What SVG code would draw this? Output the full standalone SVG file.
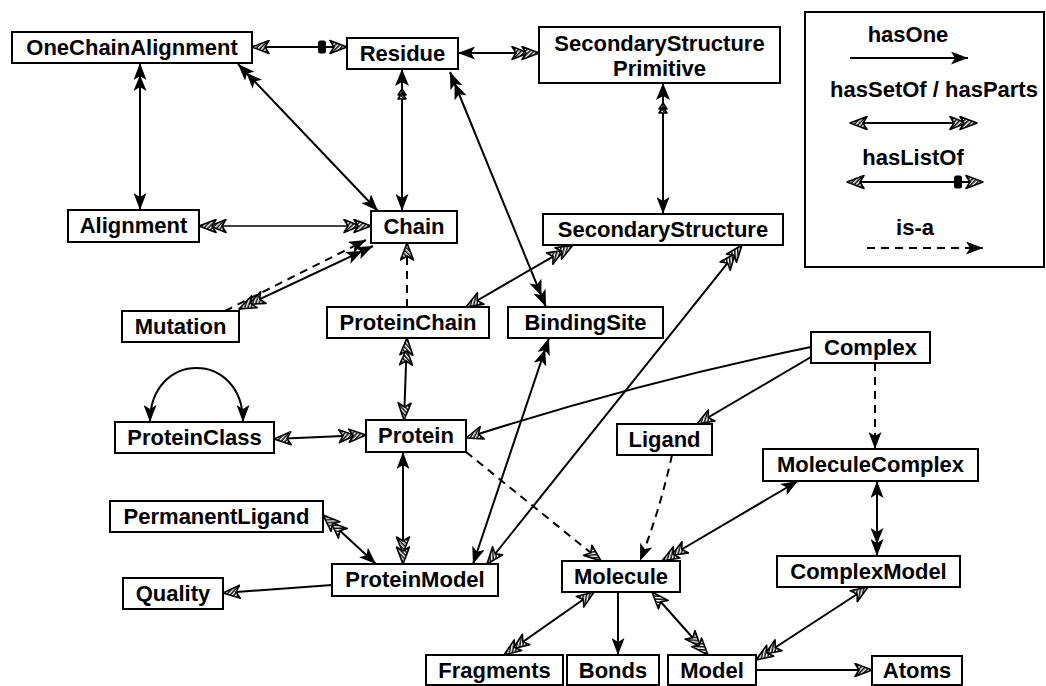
<svg xmlns="http://www.w3.org/2000/svg" width="1046" height="686" viewBox="0 0 1046 686">
<style>
.box{fill:#fff;stroke:#000;stroke-width:2}
.t{font-family:"Liberation Sans",Arial,sans-serif;font-weight:bold;font-size:22px;fill:#000;text-anchor:middle}
.c{fill:none;stroke:#000;stroke-width:2}
.d{fill:none;stroke:#000;stroke-width:2;stroke-dasharray:8,6}
.hf{fill:url(#hp);stroke:#000;stroke-width:1.6;stroke-linejoin:round}
</style>
<defs>
<pattern id="hp" width="3" height="3" patternUnits="userSpaceOnUse" patternTransform="rotate(45)">
<rect width="3" height="3" fill="#fff"/>
<line x1="0.8" y1="0" x2="0.8" y2="3" stroke="#000" stroke-width="1.5"/>
</pattern>
<marker id="one" viewBox="0 0 17 13" markerWidth="17" markerHeight="13" refX="17" refY="6.5" orient="auto-start-reverse" markerUnits="userSpaceOnUse">
<path d="M0,0 L17,6.5 L0,13 L4,6.5z" fill="#000"/>
</marker>
<marker id="dbl" viewBox="0 0 28 13" markerWidth="28" markerHeight="13" refX="28" refY="6.5" orient="auto-start-reverse" markerUnits="userSpaceOnUse">
<path d="M0,0 L16,6.5 L0,13 L4,6.5z M11,0 L28,6.5 L11,13 L15,6.5z" fill="#000"/>
</marker>
<marker id="h1" viewBox="-1 -1 19 15" markerWidth="19" markerHeight="15" refX="17" refY="6.5" orient="auto-start-reverse" markerUnits="userSpaceOnUse">
<path d="M0,0 L17,6.5 L0,13 L4,6.5z" class="hf"/>
</marker>
<marker id="h2" viewBox="-1 -1 29 15" markerWidth="29" markerHeight="15" refX="27" refY="6.5" orient="auto-start-reverse" markerUnits="userSpaceOnUse">
<path d="M0,0 L16,6.5 L0,13 L4,6.5z" class="hf"/>
<path d="M10,0 L27,6.5 L10,13 L14,6.5z" class="hf"/>
</marker>
<marker id="list" viewBox="-1 -1 33 16" markerWidth="33" markerHeight="16" refX="29" refY="7" orient="auto-start-reverse" markerUnits="userSpaceOnUse">
<rect x="0" y="0.5" width="8" height="13" rx="2.5" fill="#000"/>
<path d="M12,0.5 L29,7 L12,13.5 L16,7z" class="hf"/>
</marker>
<marker id="mark" viewBox="-1 -1 32 16" markerWidth="32" markerHeight="16" refX="30" refY="7" orient="auto-start-reverse" markerUnits="userSpaceOnUse">
<path d="M0,3 L6,7 L0,11z M4,3 L10,7 L4,11z" class="hf"/>
<path d="M13,0 L30,7 L13,14 L17,7z" fill="#000"/>
</marker>
</defs>

<g id="connectors">
<path class="c" d="M252,47 L347,47" marker-start="url(#h1)" marker-end="url(#list)"/>
<path class="c" d="M458,53 L539,53" marker-start="url(#one)" marker-end="url(#h2)"/>
<path class="c" d="M140,63 L140,210" marker-start="url(#dbl)" marker-end="url(#one)"/>
<path class="c" d="M238,64 L378,211" marker-start="url(#dbl)" marker-end="url(#one)"/>
<path class="c" d="M402,69 L402,211" marker-start="url(#mark)" marker-end="url(#one)"/>
<path class="c" d="M450,72 L546,307" marker-start="url(#dbl)" marker-end="url(#dbl)"/>
<path class="c" d="M663,83 L663,214" marker-start="url(#mark)" marker-end="url(#one)"/>
<path class="c" d="M199,226 L371,226" marker-start="url(#h2)" marker-end="url(#h2)" style="stroke-width:1.6"/>
<path class="d" d="M225,311 L366,240" marker-end="url(#one)"/>
<path class="c" d="M239,309 L373,246" marker-start="url(#h2)" marker-end="url(#dbl)"/>
<path class="d" d="M407,307 L407,243" marker-end="url(#h1)"/>
<path class="c" d="M466,307 L573,245" marker-start="url(#h1)" marker-end="url(#h2)"/>
<path class="c" d="M407,338 L404,420" marker-start="url(#h2)" marker-end="url(#h1)"/>
<path class="c" d="M549,338 L473,564" marker-start="url(#dbl)" marker-end="url(#one)"/>
<path class="c" d="M742,245 L487,564" marker-start="url(#h2)" marker-end="url(#h1)"/>
<path class="c" d="M811,347 Q640,382 466,438" marker-end="url(#h1)"/>
<path class="c" d="M811,357 L697,424" marker-end="url(#h1)"/>
<path class="d" d="M875,363 L875,449" marker-end="url(#one)"/>
<path class="c" d="M877,481 L877,556" marker-start="url(#one)" marker-end="url(#dbl)"/>
<path class="c" d="M798,481 L662,561" marker-start="url(#one)" marker-end="url(#h2)"/>
<path class="d" d="M672,455 Q660,510 640,561" marker-end="url(#one)"/>
<path class="d" d="M466,452 L601,561" marker-end="url(#h1)"/>
<path class="c" d="M594,592 L504,655" marker-start="url(#h1)" marker-end="url(#h2)"/>
<path class="c" d="M618,592 L618,655" marker-end="url(#one)"/>
<path class="c" d="M652,592 L708,655" marker-start="url(#h1)" marker-end="url(#h2)"/>
<path class="c" d="M868,587 L756,660" marker-start="url(#h1)" marker-end="url(#h2)"/>
<path class="c" d="M756,670 L872,670" marker-end="url(#h1)"/>
<path class="c" d="M150,422 C150,350 243,350 243,422" marker-start="url(#one)" marker-end="url(#one)"/>
<path class="c" d="M274,439 L366,435" marker-start="url(#h1)" marker-end="url(#h2)"/>
<path class="c" d="M403,452 L403,564" marker-start="url(#one)" marker-end="url(#h2)"/>
<path class="c" d="M323,515 L376,564" marker-start="url(#h2)" marker-end="url(#one)"/>
<path class="c" d="M332,585 L223,593" marker-end="url(#h1)"/>
</g>

<g id="OneChainAlignment"><rect class="box" x="12" y="32" width="240" height="31"/><text class="t" x="132" y="55">OneChainAlignment</text></g>
<g id="Residue"><rect class="box" x="347" y="38" width="111" height="31"/><text class="t" x="402.5" y="61">Residue</text></g>
<g id="SecondaryStructurePrimitive"><rect class="box" x="539" y="27" width="241" height="56"/><text class="t" x="659.5" y="51">SecondaryStructure</text><text class="t" x="659.5" y="76">Primitive</text></g>
<g id="Alignment"><rect class="box" x="68" y="210" width="131" height="32"/><text class="t" x="133.5" y="233">Alignment</text></g>
<g id="Chain"><rect class="box" x="371" y="211" width="86" height="32"/><text class="t" x="414" y="234">Chain</text></g>
<g id="SecondaryStructure"><rect class="box" x="543" y="214" width="240" height="31"/><text class="t" x="663" y="237">SecondaryStructure</text></g>
<g id="Mutation"><rect class="box" x="122" y="311" width="117" height="31"/><text class="t" x="180.5" y="334">Mutation</text></g>
<g id="ProteinChain"><rect class="box" x="327" y="307" width="162" height="31"/><text class="t" x="408" y="330">ProteinChain</text></g>
<g id="BindingSite"><rect class="box" x="508" y="307" width="155" height="31"/><text class="t" x="585.5" y="330">BindingSite</text></g>
<g id="Complex"><rect class="box" x="811" y="332" width="119" height="31"/><text class="t" x="870.5" y="355">Complex</text></g>
<g id="ProteinClass"><rect class="box" x="115" y="422" width="159" height="31"/><text class="t" x="194.5" y="445">ProteinClass</text></g>
<g id="Protein"><rect class="box" x="366" y="420" width="100" height="32"/><text class="t" x="416" y="443">Protein</text></g>
<g id="Ligand"><rect class="box" x="617" y="424" width="95" height="31"/><text class="t" x="664.5" y="447">Ligand</text></g>
<g id="MoleculeComplex"><rect class="box" x="763" y="449" width="215" height="32"/><text class="t" x="870.5" y="472">MoleculeComplex</text></g>
<g id="PermanentLigand"><rect class="box" x="110" y="501" width="213" height="31"/><text class="t" x="216.5" y="524">PermanentLigand</text></g>
<g id="ProteinModel"><rect class="box" x="332" y="564" width="166" height="32"/><text class="t" x="415" y="587">ProteinModel</text></g>
<g id="Quality"><rect class="box" x="123" y="578" width="100" height="31"/><text class="t" x="173" y="601">Quality</text></g>
<g id="Molecule"><rect class="box" x="562" y="561" width="118" height="31"/><text class="t" x="621" y="584">Molecule</text></g>
<g id="ComplexModel"><rect class="box" x="777" y="556" width="183" height="31"/><text class="t" x="868.5" y="579">ComplexModel</text></g>
<g id="Fragments"><rect class="box" x="426" y="655" width="137" height="30"/><text class="t" x="494.5" y="678">Fragments</text></g>
<g id="Bonds"><rect class="box" x="567" y="655" width="92" height="30"/><text class="t" x="613" y="678">Bonds</text></g>
<g id="Model"><rect class="box" x="668" y="655" width="88" height="30"/><text class="t" x="712" y="678">Model</text></g>
<g id="Atoms"><rect class="box" x="872" y="656" width="90" height="29"/><text class="t" x="917" y="678">Atoms</text></g>

<g id="legend">
<rect class="box" x="805" y="12" width="239" height="255"/>
<text class="t" x="908" y="42">hasOne</text>
<path class="c" d="M850,58 L968,58" marker-end="url(#one)"/>
<text class="t" x="934" y="97">hasSetOf / hasParts</text>
<path class="c" d="M850,123 L977,123" marker-start="url(#h1)" marker-end="url(#h2)"/>
<text class="t" x="913" y="165">hasListOf</text>
<path class="c" d="M847,182 L983,182" marker-start="url(#h1)" marker-end="url(#list)"/>
<text class="t" x="915" y="235">is-a</text>
<path class="d" d="M867,248 L983,248" marker-end="url(#one)"/>
</g>
</svg>
